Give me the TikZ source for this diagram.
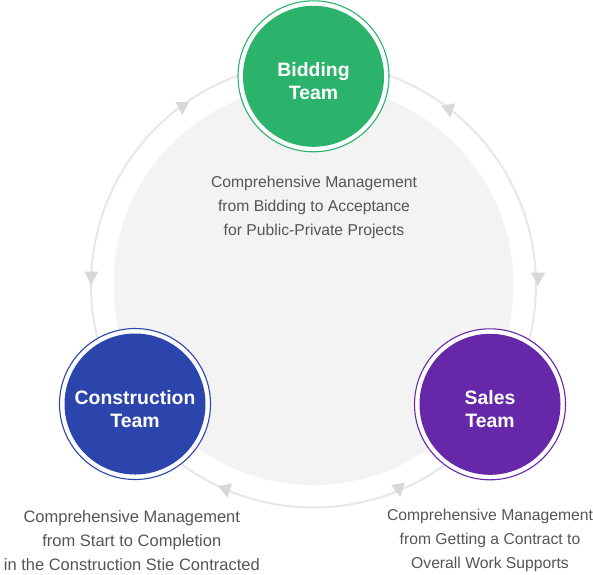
\documentclass[tikz,border=0pt]{standalone}
\usepackage{fontspec}
\setmainfont{Liberation Sans}
\definecolor{ringc}{HTML}{E7E7E7}
\definecolor{discc}{HTML}{F3F3F3}
\definecolor{tric}{HTML}{D8D8D8}
\definecolor{bidc}{HTML}{2CB36B}
\definecolor{conc}{HTML}{2B45AD}
\definecolor{salc}{HTML}{6628A8}
\definecolor{txtc}{HTML}{555555}
\begin{document}
\begin{tikzpicture}[x=1pt,y=-1pt,
  outerdisc/.style={circle, draw=#1, line width=1.1pt, fill=white, minimum size=151pt, inner sep=0pt},
  innerdisc/.style={circle, fill=#1, minimum size=141pt, inner sep=0pt},
  title/.style={text=white, align=center, font=\bfseries\fontsize{19.4}{23.5}\selectfont},
  desc/.style={text=txtc, align=center, font=\fontsize{15.7}{24}\selectfont},
  arrowtri/.style={fill=tric}]
\useasboundingbox (0,0) rectangle (593,574);
\coordinate (O) at (313.5,285);
\draw[ringc, line width=2pt] (O) circle (222.5pt);
\fill[discc] (O) circle (200pt);
\foreach \px/\py/\rot in {182.3/107/0, 449/109.5/10, 91.3/276.7/0, 538/277.7/0, 226/489.7/10, 398.8/488.8/10}{
  \fill[arrowtri, shift={(\px,\py)}, rotate=\rot] (0,8) -- (-7,-5) -- (7,-5) -- cycle;
}
% Bidding
\node[outerdisc=bidc] (bidO) at (313.5,76.3) {};
\node[innerdisc=bidc] (bid) at (bidO.center) {};
\node[title] (bidT) at ([yshift=-5pt]bid.center) {Bidding\\Team};
% Construction
\node[outerdisc=conc] (conO) at (135,404) {};
\node[innerdisc=conc] (con) at (conO.center) {};
\node[title] (conT) at ([yshift=-5pt]con.center) {Construction\\Team};
% Sales
\node[outerdisc=salc] (salO) at (490,404.3) {};
\node[innerdisc=salc] (sal) at (salO.center) {};
\node[title] (salT) at ([yshift=-5pt]sal.center) {Sales\\Team};
% descriptions
\node[desc] (bidD) at (314,207.5) {Comprehensive Management\\from Bidding to Acceptance\\for Public-Private Projects};
\node[desc, font=\fontsize{16.5}{24}\selectfont] (conD) at (131.8,540.5) {Comprehensive Management\\from Start to Completion\\in the Construction Stie Contracted};
\node[desc] (salD) at (490,540.5) {Comprehensive Management\\from Getting a Contract to\\Overall Work Supports};
\end{tikzpicture}
\end{document}
